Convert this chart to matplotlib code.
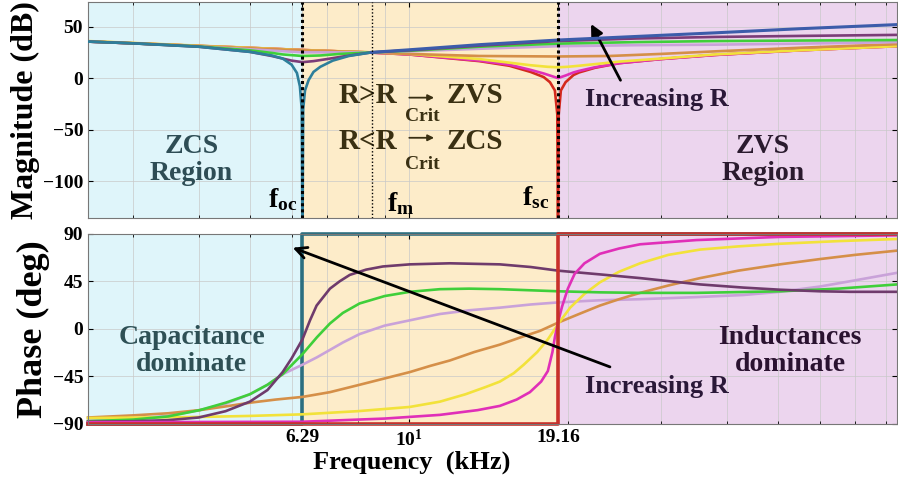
import numpy as np
import matplotlib
matplotlib.use('Agg')
import matplotlib.pyplot as plt

plt.rcParams['font.family'] = ['Liberation Serif', 'DejaVu Serif']
plt.rcParams['font.weight'] = 'bold'
plt.rcParams['axes.labelweight'] = 'bold'
plt.rcParams['mathtext.fontset'] = 'custom'
plt.rcParams['mathtext.rm'] = 'Liberation Serif:bold'
plt.rcParams['mathtext.bf'] = 'Liberation Serif:bold'
plt.rcParams['mathtext.it'] = 'Liberation Serif:bold'

# key frequencies (kHz)
F_OC = 6.29
F_M = 8.5
F_SC = 19.16
X_MIN, X_MAX = 2.47, 84.0

# ---- magnitude (dB) ----
f_teal_mag = [2.47, 3.0, 4.0, 5.0, 5.5, 5.77, 6.0, 6.14, 6.22, 6.27, 6.29, 6.31, 6.36, 6.46, 6.6,
              6.8, 7.18, 7.7, 8.5, 10, 13.6, 19.16, 27, 38, 55, 84]
teal_mag = [35.5, 33.8, 30.5, 25.5, 22, 19, 13, 5, -8, -30, -160, -30, -12, -2, 6,
            11, 17, 21.5, 25, 27.5, 32.5, 37, 40.5, 44, 48, 52]

f_purple_mag = [2.47, 3, 4, 5, 5.5, 5.77, 6.0, 6.29, 6.6, 7, 7.5, 8.5, 10, 13.6, 19.16, 27, 38,
                55, 84]
purple_mag = [35.5, 33.8, 30.5, 25.5, 21.5, 19, 17, 15.5, 16.5, 18.5, 21, 25, 27, 31.5, 36, 38.5,
              40, 41, 42]

f_green_mag = [2.47, 3, 4, 5, 5.5, 5.77, 6.29, 6.8, 7.4, 8.5, 10, 13.6, 19.16, 27, 38, 55, 84]
green_mag = [35.5, 33.8, 30.8, 27, 24.5, 23, 21.5, 22, 23.5, 25, 26.5, 30.5, 33.5, 35, 36, 36.5,
             37]

f_lilac_mag = [2.47, 3, 4, 5, 6.29, 7, 8.5, 10, 13.6, 19.16, 27, 38, 55, 84]
lilac_mag = [35.5, 33.8, 30.8, 28, 25, 25, 25, 26, 28.5, 31, 32, 32.5, 33.5, 35]

f_orange_mag = [2.47, 3, 4, 5, 6.29, 8.5, 10, 13.6, 19.16, 24, 30, 38, 55, 84]
orange_mag = [35.8, 34, 31.2, 29, 27, 25, 23.5, 21.5, 21, 21.5, 23.5, 26, 29.5, 33]

f_yellow_mag = [2.47, 3, 4, 5, 6.29, 8.5, 10, 13.6, 15.5, 17, 18.3, 19.16, 20, 21, 25, 30, 38,
                55, 84]
yellow_mag = [36, 34.2, 31.5, 29.5, 27.3, 25, 23.5, 18.5, 15, 12.5, 11, 10.5, 11, 12, 16, 19, 23,
              27, 31]

f_magenta_mag = [2.47, 3, 4, 5, 6.29, 8.5, 10, 13.6, 15.5, 17, 18.0, 18.5, 19.16, 19.8, 20.5, 21,
                 22.5, 25, 30, 38, 55, 84]
magenta_mag = [35.5, 33.8, 31.3, 29.4, 27.3, 24.8, 23, 17, 13, 8, 4.5, 2.5, 0, 2.5, 5.5, 7,
               10.5, 14.5, 18.5, 22.5, 27, 31]

f_red_mag = [2.47, 3, 4, 5, 6.29, 8.5, 10, 13.6, 15.5, 17, 18.0, 18.5, 18.9, 19.1, 19.16, 19.22,
             19.4, 19.8, 20.5, 21, 22.5, 25, 30, 38, 55, 84]
red_mag = [35.5, 33.8, 31.3, 29.4, 27.3, 24.8, 23, 16.5, 12, 6, 1, -4, -12, -35, -160, -35,
           -12, -4, 3, 5.5, 10, 14.5, 18.5, 22.5, 27, 31]

# ---- phase (deg) ----
f_teal_ph = [2.47, 6.29, 6.29, 84]
teal_ph = [-90, -90, 90, 90]

f_purple_ph = [2.47, 3.0, 3.5, 4.0, 4.5, 5.0, 5.4, 5.77, 6.0, 6.29, 6.5, 6.69, 7.09, 7.4, 7.73,
               8.3, 8.93, 10.04, 11.96, 14.87, 17, 19.2, 23, 27.4, 35.6, 43, 50.4, 60, 68.4, 84]
purple_ph = [-88, -87.5, -86.5, -84, -78, -69, -58, -41, -28, -10, 8, 22, 38, 45, 51,
             56, 59, 61, 62, 61, 58.5, 55, 51.5, 48, 42, 39, 37, 35.5, 35, 35]

f_green_ph = [2.47, 3.0, 3.5, 4.02, 4.5, 5.0, 5.4, 5.77, 6.29, 6.7, 7.09, 7.5, 8.07, 9.0, 10.04,
              11.45, 13, 14.87, 19.2, 23, 27.4, 35, 50.4, 65, 84]
green_ph = [-87.5, -86, -83, -77, -70, -62, -53, -43, -24, -8, 5, 15, 24, 31, 35,
            37.5, 38, 37.5, 35.5, 34.5, 34, 34, 35.5, 38, 42]

f_lilac_ph = [2.47, 3.0, 3.5, 4.02, 4.5, 5.0, 5.4, 5.77, 6.29, 6.7, 7.09, 7.5, 8.07, 9.0, 10.04,
              11.45, 13, 14.87, 17, 19.2, 23, 27.4, 35, 43, 50.4, 60, 68.4, 84]
lilac_ph = [-87, -85.5, -82.5, -77, -71, -62, -53, -43, -34, -27, -20, -13, -5, 3, 8,
            14, 17.5, 20, 23, 25, 27, 28, 30, 32, 35, 40, 45, 53]

f_orange_ph = [2.47, 3.0, 3.5, 4.02, 4.5, 5.0, 5.6, 6.29, 7.09, 8.07, 9.0, 10.04, 11.0, 11.96,
               13.3, 14.87, 16.3, 17.71, 19.2, 21, 23.0, 25, 27.4, 31, 35.6, 42, 50.4, 60, 70, 84]
orange_ph = [-84, -82, -80, -77, -73.5, -70, -67, -64.5, -60, -53, -47, -41, -35, -30,
             -22, -15, -8, -2, 6, 14, 22, 28, 34, 41, 48, 55, 61, 66, 70, 74]

f_yellow_ph = [2.47, 4.0, 5.0, 6.29, 8.0, 10.04, 11.45, 12.8, 14.0, 14.87, 15.8, 16.5, 17.5, 18.33,
               19.2, 20.2, 21.5, 23.0, 25, 27.4, 31, 35.6, 42, 50.4, 65, 84]
yellow_ph = [-84.5, -83.5, -82.5, -81, -78, -74, -69, -62, -55, -50, -42, -34, -22, -10,
             5, 20, 33, 44, 54, 62, 70, 75, 78, 80.5, 83, 85]

f_magenta_ph = [2.47, 6.29, 9, 11.45, 13.5, 14.87, 16.0, 16.95, 17.8, 18.33, 18.7, 18.9, 19.2,
                19.5, 20.0, 20.6, 21.5, 23.0, 25, 27.4, 35, 50.4, 84]
magenta_ph = [-88.5, -88, -85, -81.5, -77, -73, -67, -60, -50, -40, -22, -8, 8,
              21, 38, 52, 62, 71, 76, 80, 84, 87, 88.5]

f_red_ph = [2.47, 19.16, 19.16, 84]
red_ph = [-90, -90, 90, 90]

# draw order: red lowest, teal/blue on top
mag_curves = [
    (f_red_mag, red_mag, '#d42a1e'),
    (f_magenta_mag, magenta_mag, '#e02fb8'),
    (f_yellow_mag, yellow_mag, '#f2e23a'),
    (f_orange_mag, orange_mag, '#d58f48'),
    (f_lilac_mag, lilac_mag, '#c9a2d9'),
    (f_green_mag, green_mag, '#3fcf3a'),
    (f_purple_mag, purple_mag, '#7b3c78'),
]
ph_curves = [
    (f_teal_ph, teal_ph, '#2c6f80'),
    (f_lilac_ph, lilac_ph, '#c9a2d9'),
    (f_orange_ph, orange_ph, '#d58f48'),
    (f_yellow_ph, yellow_ph, '#f2e23a'),
    (f_green_ph, green_ph, '#3fcf3a'),
    (f_purple_ph, purple_ph, '#6f3b6c'),
    (f_magenta_ph, magenta_ph, '#e02fb8'),
    (f_red_ph, red_ph, '#c8302a'),
]

fig = plt.figure(figsize=(8.98, 4.9), dpi=100)
ax1 = fig.add_axes([0.098, 0.555, 0.901, 0.441])
ax2 = fig.add_axes([0.098, 0.135, 0.901, 0.388])

for ax in (ax1, ax2):
    ax.set_xscale('log')
    ax.set_xlim(X_MIN, X_MAX)
    ax.axvspan(X_MIN, F_OC, color='#dff5fa', zorder=0, lw=0)
    ax.axvspan(F_OC, F_SC, color='#fdecc9', zorder=0, lw=0)
    ax.axvspan(F_SC, X_MAX, color='#ecd5ee', zorder=0, lw=0)
    ax.set_axisbelow(True)
    ax.grid(True, which='both', color='#c8c8c8', lw=0.7, alpha=0.7)
    ax.tick_params(which='both', direction='in', top=True, right=True, labelsize=14)
    for s in ax.spines.values():
        s.set_color('#777777')
        s.set_linewidth(0.8)

# top panel: magnitude
ax1.plot(f_teal_mag[:19], teal_mag[:19], color='#2e7f9b', lw=1.9, zorder=4)
for f, v, c in mag_curves:
    ax1.plot(f, v, color=c, lw=1.9)
ax1.plot(f_teal_mag[18:], teal_mag[18:], color='#3c5caa', lw=2.2, zorder=5)
ax1.set_ylim(-136, 74)
ax1.set_yticks([50, 0, -50, -100])
ax1.set_xticks([F_OC, 10, F_SC])
ax1.set_xticks([3, 4, 5, 6, 7, 8, 9, 20, 30, 40, 50, 60, 70, 80], minor=True)
ax1.tick_params(which='both', labelbottom=False)
ax1.set_ylabel('Magnitude (dB)', fontsize=23, fontweight='bold', labelpad=2)

ax1.axvline(F_OC, color='black', ls=(0, (1, 1)), lw=2.2, zorder=6)
ax1.axvline(F_SC, color='black', ls=(0, (1, 1)), lw=2.2, zorder=6)
ax1.axvline(F_M, color='black', ls=(0, (1, 1.5)), lw=1.0, zorder=6)

ax1.text(3.88, -80, 'ZCS\nRegion', ha='center', va='center', fontsize=20, fontweight='bold',
         color='#2e4d55', linespacing=1.1)
ax1.text(46.8, -80, 'ZVS\nRegion', ha='center', va='center', fontsize=20, fontweight='bold',
         color='#2a1a2e', linespacing=1.1)
ax1.text(5.77, -118, r'f$_{\mathbf{oc}}$', ha='center', va='center', fontsize=20, color='black')
ax1.text(9.66, -122, r'f$_{\mathbf{m}}$', ha='center', va='center', fontsize=20, color='black')
ax1.text(17.4, -116, r'f$_{\mathbf{sc}}$', ha='center', va='center', fontsize=20, color='black')

# R vs R_Crit statements: "R>R", subscript "Crit" and a small arrow above it
crit_color = '#3a3012'
for sign, y_main, y_sub, y_arr, word in ((">", -17, -37, -19, 'ZVS'),
                                         ("<", -62, -84, -58, 'ZCS')):
    ax1.text(7.35, y_main, 'R' + sign + 'R', ha='left', va='center', fontsize=21,
             fontweight='bold', color=crit_color)
    ax1.text(9.83, y_sub, 'Crit', ha='left', va='center', fontsize=14,
             fontweight='bold', color=crit_color)
    ax1.annotate('', xy=(11.3, y_arr), xytext=(9.9, y_arr),
                 arrowprops=dict(arrowstyle='-|>', color=crit_color, lw=1.3, mutation_scale=9))
    ax1.text(11.8, y_main, word, ha='left', va='center', fontsize=21, fontweight='bold',
             color=crit_color)

ax1.text(29.5, -21, 'Increasing R', ha='center', va='center', fontsize=19, fontweight='bold',
         color='#2a1838')
ax1.annotate('', xy=(22.0, 55), xytext=(25.3, -4.5),
             arrowprops=dict(arrowstyle='-|>', color='black', lw=2, mutation_scale=18))

# bottom panel: phase
for f, v, c in ph_curves:
    lw = 2.6 if c in ('#2c6f80', '#c8302a') else 1.9
    ax2.plot(f, v, color=c, lw=lw, clip_on=False)
ax2.set_ylim(-90, 90)
ax2.set_yticks([90, 45, 0, -45, -90])
ax2.set_xticks([F_OC, 10, F_SC])
ax2.set_xticklabels(['6.29', r'$\mathbf{10^{1}}$', '19.16'], fontsize=14, fontweight='bold')
ax2.set_xticks([3, 4, 5, 6, 7, 8, 9, 20, 30, 40, 50, 60, 70, 80], minor=True)
ax2.tick_params(which='minor', labelbottom=False)
ax2.set_ylabel('Phase (deg)', fontsize=26, fontweight='bold', labelpad=2)
ax2.set_xlabel('Frequency  (kHz)', fontsize=19, fontweight='bold')
ax2.xaxis.set_label_coords(0.40, -0.14)

ax2.text(3.88, -21, 'Capacitance\ndominate', ha='center', va='center', fontsize=20,
         fontweight='bold', color='#2e5055', linespacing=1.1)
ax2.text(52.7, -21, 'Inductances\ndominate', ha='center', va='center', fontsize=20,
         fontweight='bold', color='#2a1230', linespacing=1.1)
ax2.text(29.5, -55, 'Increasing R', ha='center', va='center', fontsize=19, fontweight='bold',
         color='#2a1838')
ax2.annotate('', xy=(5.96, 77.7), xytext=(24.3, -37),
             arrowprops=dict(arrowstyle='->', color='black', lw=2, mutation_scale=20))

for lbl in ax1.get_yticklabels() + ax2.get_yticklabels():
    lbl.set_fontweight('bold')

fig.savefig('out.png', dpi=100)
